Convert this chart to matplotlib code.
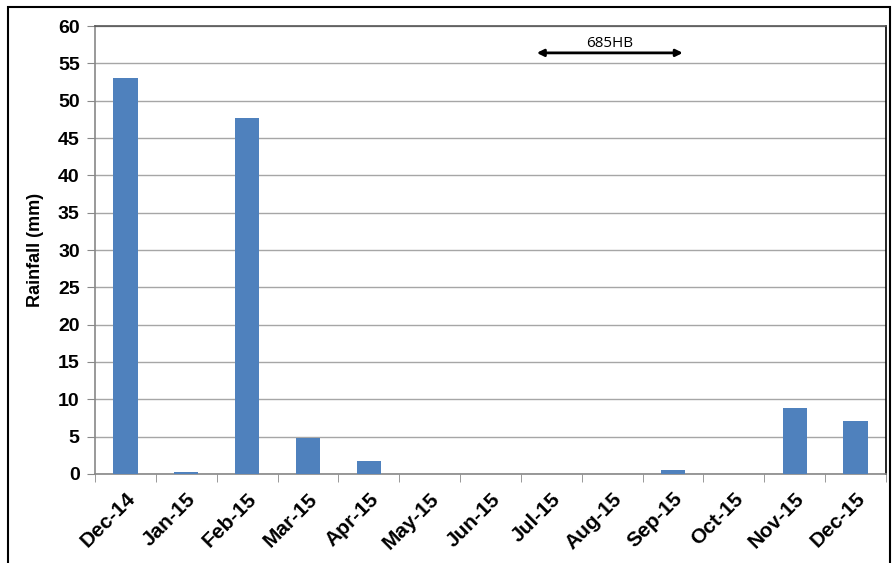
import matplotlib.pyplot as plt
from matplotlib.patches import Rectangle

months = ["Dec-14", "Jan-15", "Feb-15", "Mar-15", "Apr-15", "May-15", "Jun-15",
          "Jul-15", "Aug-15", "Sep-15", "Oct-15", "Nov-15", "Dec-15"]
rainfall = [53.0, 0.2, 47.7, 4.8, 1.8, 0, 0, 0, 0, 0.5, 0, 8.9, 7.1]

# period marked with the arrow (in category units)
arrow_start = 6.76
arrow_end = 9.16
arrow_y = 56.4

plt.rcParams['font.family'] = ['Liberation Sans', 'DejaVu Sans']

fig = plt.figure(figsize=(8.93, 5.63), dpi=100)
ax = fig.add_axes([0.1064, 0.1581, 0.8858, 0.7957])

x = range(len(months))
ax.bar(x, rainfall, width=0.4, color='#4F81BD', zorder=3)

ax.set_xlim(-0.5, len(months) - 0.5)
ax.set_ylim(0, 60)
ax.set_yticks(range(0, 61, 5))
ax.yaxis.grid(True, color='#A6A6A6', linewidth=1, zorder=0)

ax.set_xticks(list(x))
ax.set_xticklabels(months, rotation=45, ha='right', rotation_mode='anchor',
                   fontsize=15, fontweight='bold')
ax.set_xticks([i - 0.5 for i in range(len(months) + 1)], minor=True)
ax.tick_params(axis='x', which='major', length=0, pad=11)
ax.tick_params(axis='x', which='minor', length=6, color='#888888', direction='out')
ax.tick_params(axis='y', length=6, color='#888888', labelsize=14, pad=5)
for lab in ax.get_yticklabels():
    lab.set_fontweight('bold')

ax.set_ylabel("Rainfall (mm)", fontsize=13, fontweight='bold', labelpad=10)

ax.spines['left'].set_color('#888888')
ax.spines['bottom'].set_color('#888888')
ax.spines['top'].set_color('#555555')
ax.spines['right'].set_color('black')
for s in ax.spines.values():
    s.set_linewidth(1.2)

ax.annotate('', xy=(arrow_start, arrow_y), xytext=(arrow_end, arrow_y),
            arrowprops=dict(arrowstyle='<|-|>', color='black', lw=2,
                            mutation_scale=10, shrinkA=0, shrinkB=0))
ax.text((arrow_start + arrow_end) / 2, arrow_y + 0.25, "685HB", ha='center',
        va='bottom', fontsize=11, family=['Open Sans', 'DejaVu Sans'])

# outer frame
fig.patches.append(Rectangle((8 / 893, -0.01), 882 / 893, (563 - 7) / 563 + 0.01,
                             transform=fig.transFigure, fill=False,
                             edgecolor='black', linewidth=1.5))

fig.savefig('out.png', dpi=100)
